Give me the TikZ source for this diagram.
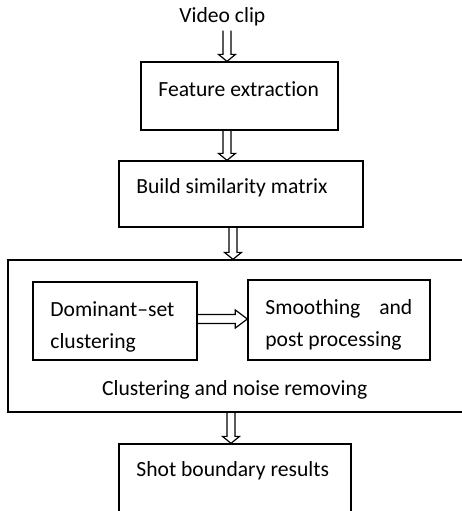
\documentclass[tikz,border=0pt]{standalone}
\usepackage{fontspec}
\setmainfont{Carlito}[Ligatures=NoCommon]
\usetikzlibrary{calc}

% hollow block arrows, drawn as outlines
\newcommand{\blockdown}[3]{%
  \draw[arr] let \p1=(#2.south), \p2=(#3.north), \p0=(#1,0) in
    (\x0-2pt,\y1) -- (\x0-2pt,\y2+3.5pt) -- (\x0-4.25pt,\y2+3.5pt) -- (\x0,\y2)
    -- (\x0+4.25pt,\y2+3.5pt) -- (\x0+2pt,\y2+3.5pt) -- (\x0+2pt,\y1);}
\newcommand{\blockright}[3]{%
  \draw[arr] let \p1=(#2.east), \p2=(#3.west), \p0=(0,#1) in
    (\x1,\y0+2.25pt) -- (\x2-6pt,\y0+2.25pt) -- (\x2-6pt,\y0+4.5pt) -- (\x2,\y0)
    -- (\x2-6pt,\y0-4.5pt) -- (\x2-6pt,\y0-2.25pt) -- (\x1,\y0-2.25pt);}

\begin{document}
\begin{tikzpicture}[x=0.5pt, y=-0.5pt,
    every node/.style={font=\fontsize{10.8}{16}\selectfont},
    box/.style={draw, line width=0.65pt, inner sep=0pt},
    txt/.style={anchor=base west, inner sep=0pt},
    arr/.style={line width=0.6pt, line join=miter}
    ]
    \useasboundingbox (0,0) rectangle (462,511);
    \clip (0,0) rectangle (462,511);

    % boxes
    \node[box, minimum width=98.5pt, minimum height=34pt] (fe) at (239.5,96) {};
    \node[box, minimum width=122pt, minimum height=33pt] (bsm) at (241,194) {};
    \node[box, minimum width=233.5pt, minimum height=76pt] (cnr) at (241.5,336) {};
    \node[box, minimum width=82pt, minimum height=39pt] (dom) at (115,321) {};
    \node[box, minimum width=91pt, minimum height=40pt] (smo) at (339,320) {};
    \node[box, minimum width=116pt, minimum height=36pt] (sbr) at (235,480) {};

    % texts
    \node[txt, inner ysep=2pt] (clip) at (179,22.7) {Video clip};
    \node[txt] (fetxt) at (158,96.5) {Feature extraction};
    \node[txt] (bsmtxt) at (136,193.3) {Build similarity matrix};
    \node[txt, text width=72pt, align=left] (domtxt) at (50,316.7) {Dominant--set\\clustering};
    \node[txt, text width=73.5pt, align=justify] (smotxt) at (265,314.3)
      {\hyphenpenalty=10000 Smoothing and post processing};
    \node[txt] (cnrtxt) at (101.7,395) {Clustering and noise removing};
    \node[txt] (sbrtxt) at (136,476.7) {Shot boundary results};

    % arrows
    \blockdown{227}{clip}{fe}
    \blockdown{227}{fe}{bsm}
    \blockdown{233}{bsm}{cnr}
    \blockright{319}{dom}{smo}
    \blockdown{231}{cnr}{sbr}
\end{tikzpicture}
\end{document}
